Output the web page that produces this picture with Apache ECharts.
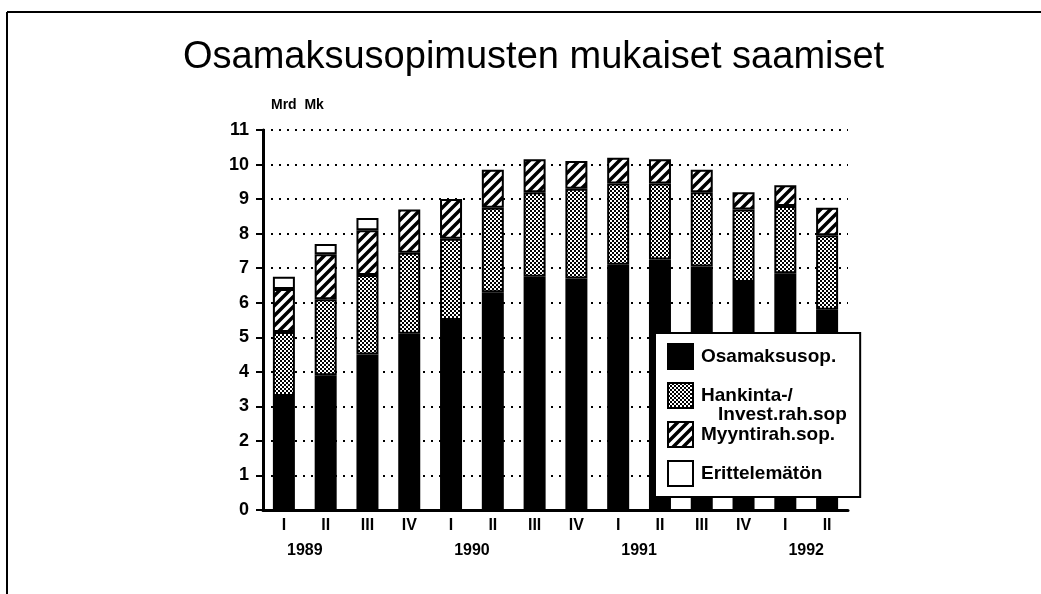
<!DOCTYPE html>
<html>
<head>
<meta charset="utf-8">
<script src="https://cdn.jsdelivr.net/npm/echarts@6/dist/echarts.min.js"></script>
<style>
  html, body { margin: 0; padding: 0; background: #fff; }
  #chart { width: 1041px; height: 594px; }
</style>
</head>
<body>
<div id="chart"></div>
<script>
const quarters = ['I', 'II', 'III', 'IV', 'I', 'II', 'III', 'IV', 'I', 'II', 'III', 'IV', 'I', 'II'];
const years = ['1989', '1990', '1991', '1992'];
const osamaksu = [3.3, 3.9, 4.5, 5.1, 5.5, 6.3, 6.75, 6.7, 7.1, 7.25, 7.05, 6.6, 6.85, 5.8];
const hankinta = [1.85, 2.2, 2.3, 2.35, 2.35, 2.45, 2.45, 2.6, 2.35, 2.2, 2.15, 2.1, 1.95, 2.15];
const myynti = [1.25, 1.3, 1.3, 1.25, 1.15, 1.1, 0.95, 0.8, 0.75, 0.7, 0.65, 0.5, 0.6, 0.8];
const erittelematon = [0.35, 0.3, 0.35, 0, 0, 0, 0, 0, 0, 0, 0, 0, 0, 0];

const font = 'Liberation Sans';

// stipple pattern for the Hankinta part
const dots = document.createElement('canvas');
dots.width = 4;
dots.height = 4;
let ctx = dots.getContext('2d');
ctx.fillStyle = '#fff';
ctx.fillRect(0, 0, 4, 4);
ctx.fillStyle = '#000';
ctx.fillRect(0, 0, 2, 2);
ctx.fillRect(2, 2, 2, 2);

// diagonal hatch for Myyntirah
const hatch = document.createElement('canvas');
hatch.width = 10;
hatch.height = 10;
ctx = hatch.getContext('2d');
ctx.fillStyle = '#fff';
ctx.fillRect(0, 0, 10, 10);
ctx.strokeStyle = '#000';
ctx.lineWidth = 3.5;
ctx.beginPath();
ctx.moveTo(-2, 12); ctx.lineTo(12, -2);
ctx.moveTo(-7, 7); ctx.lineTo(7, -7);
ctx.moveTo(3, 17); ctx.lineTo(17, 3);
ctx.stroke();

const chart = echarts.init(document.getElementById('chart'));

const barSeries = (name, data, color) => ({
  name: name,
  type: 'bar',
  stack: 'total',
  barWidth: 22,
  data: data.map(v => v || null),
  itemStyle: {
    color: color,
    borderColor: '#000',
    borderWidth: 2
  }
});

const option = {
  animation: false,
  backgroundColor: '#fff',
  title: {
    text: 'Osamaksusopimusten mukaiset saamiset',
    left: 178,
    top: 34,
    textStyle: {fontFamily: font, fontSize: 38, fontWeight: 'normal', color: '#000'}
  },
  grid: {left: 263, right: 193, top: 130, bottom: 84},
  legend: {
    orient: 'vertical',
    left: 655,
    top: 333,
    padding: [10, 24, 10, 12],
    icon: 'rect',
    itemWidth: 25,
    itemHeight: 25,
    itemGap: 12,
    backgroundColor: '#fff',
    borderColor: '#000',
    borderWidth: 2,
    textStyle: {fontFamily: font, fontSize: 19, fontWeight: 'bold', color: '#000', padding: [0, 0, 0, 3]},
    data: ['Osamaksusop.', 'Hankinta-/', 'Myyntirah.sop.', 'Erittelemätön']
  },
  xAxis: [
    {
      type: 'category',
      data: quarters,
      axisLine: {lineStyle: {color: '#000', width: 3}},
      axisTick: {show: false},
      axisLabel: {fontFamily: font, fontSize: 16, fontWeight: 'bold', color: '#000', margin: 8}
    },
    {
      type: 'value',
      position: 'bottom',
      min: 0,
      max: 14,
      interval: 1,
      offset: 25,
      axisLine: {show: false},
      axisTick: {show: false},
      splitLine: {show: false},
      axisLabel: {
        fontFamily: font, fontSize: 16, fontWeight: 'bold', color: '#000', margin: 8,
        formatter: v => (v - 1) % 4 === 0 ? (years[(v - 1) / 4] || '') : ''
      }
    }
  ],
  yAxis: {
    type: 'value',
    min: 0,
    max: 11,
    interval: 1,
    name: 'Mrd  Mk',
    nameLocation: 'end',
    nameGap: 18,
    nameTextStyle: {fontFamily: font, fontSize: 14, fontWeight: 'bold', color: '#000', align: 'left', padding: [0, 0, 0, 8]},
    axisLine: {show: true, lineStyle: {color: '#000', width: 3}},
    axisTick: {show: true, length: 7, lineStyle: {color: '#000', width: 2}},
    axisLabel: {fontFamily: font, fontSize: 18, fontWeight: 'bold', color: '#000', margin: 14},
    splitLine: {lineStyle: {color: '#000', width: 2, type: [2, 6]}}
  },
  graphic: [
    {type: 'line', shape: {x1: 7, y1: 12, x2: 1041, y2: 12}, style: {stroke: '#000', lineWidth: 2}},
    {type: 'line', shape: {x1: 7, y1: 12, x2: 7, y2: 594}, style: {stroke: '#000', lineWidth: 2}},
    {
      type: 'text', left: 718, top: 405, z: 200,
      style: {text: 'Invest.rah.sop', fontFamily: font, fontSize: 19, fontWeight: 'bold', fill: '#000'}
    }
  ],
  series: [
    barSeries('Osamaksusop.', osamaksu, '#000'),
    barSeries('Hankinta-/', hankinta, {image: dots, repeat: 'repeat'}),
    barSeries('Myyntirah.sop.', myynti, {image: hatch, repeat: 'repeat'}),
    barSeries('Erittelemätön', erittelematon, '#fff')
  ]
};

chart.setOption(option);
</script>
</body>
</html>
